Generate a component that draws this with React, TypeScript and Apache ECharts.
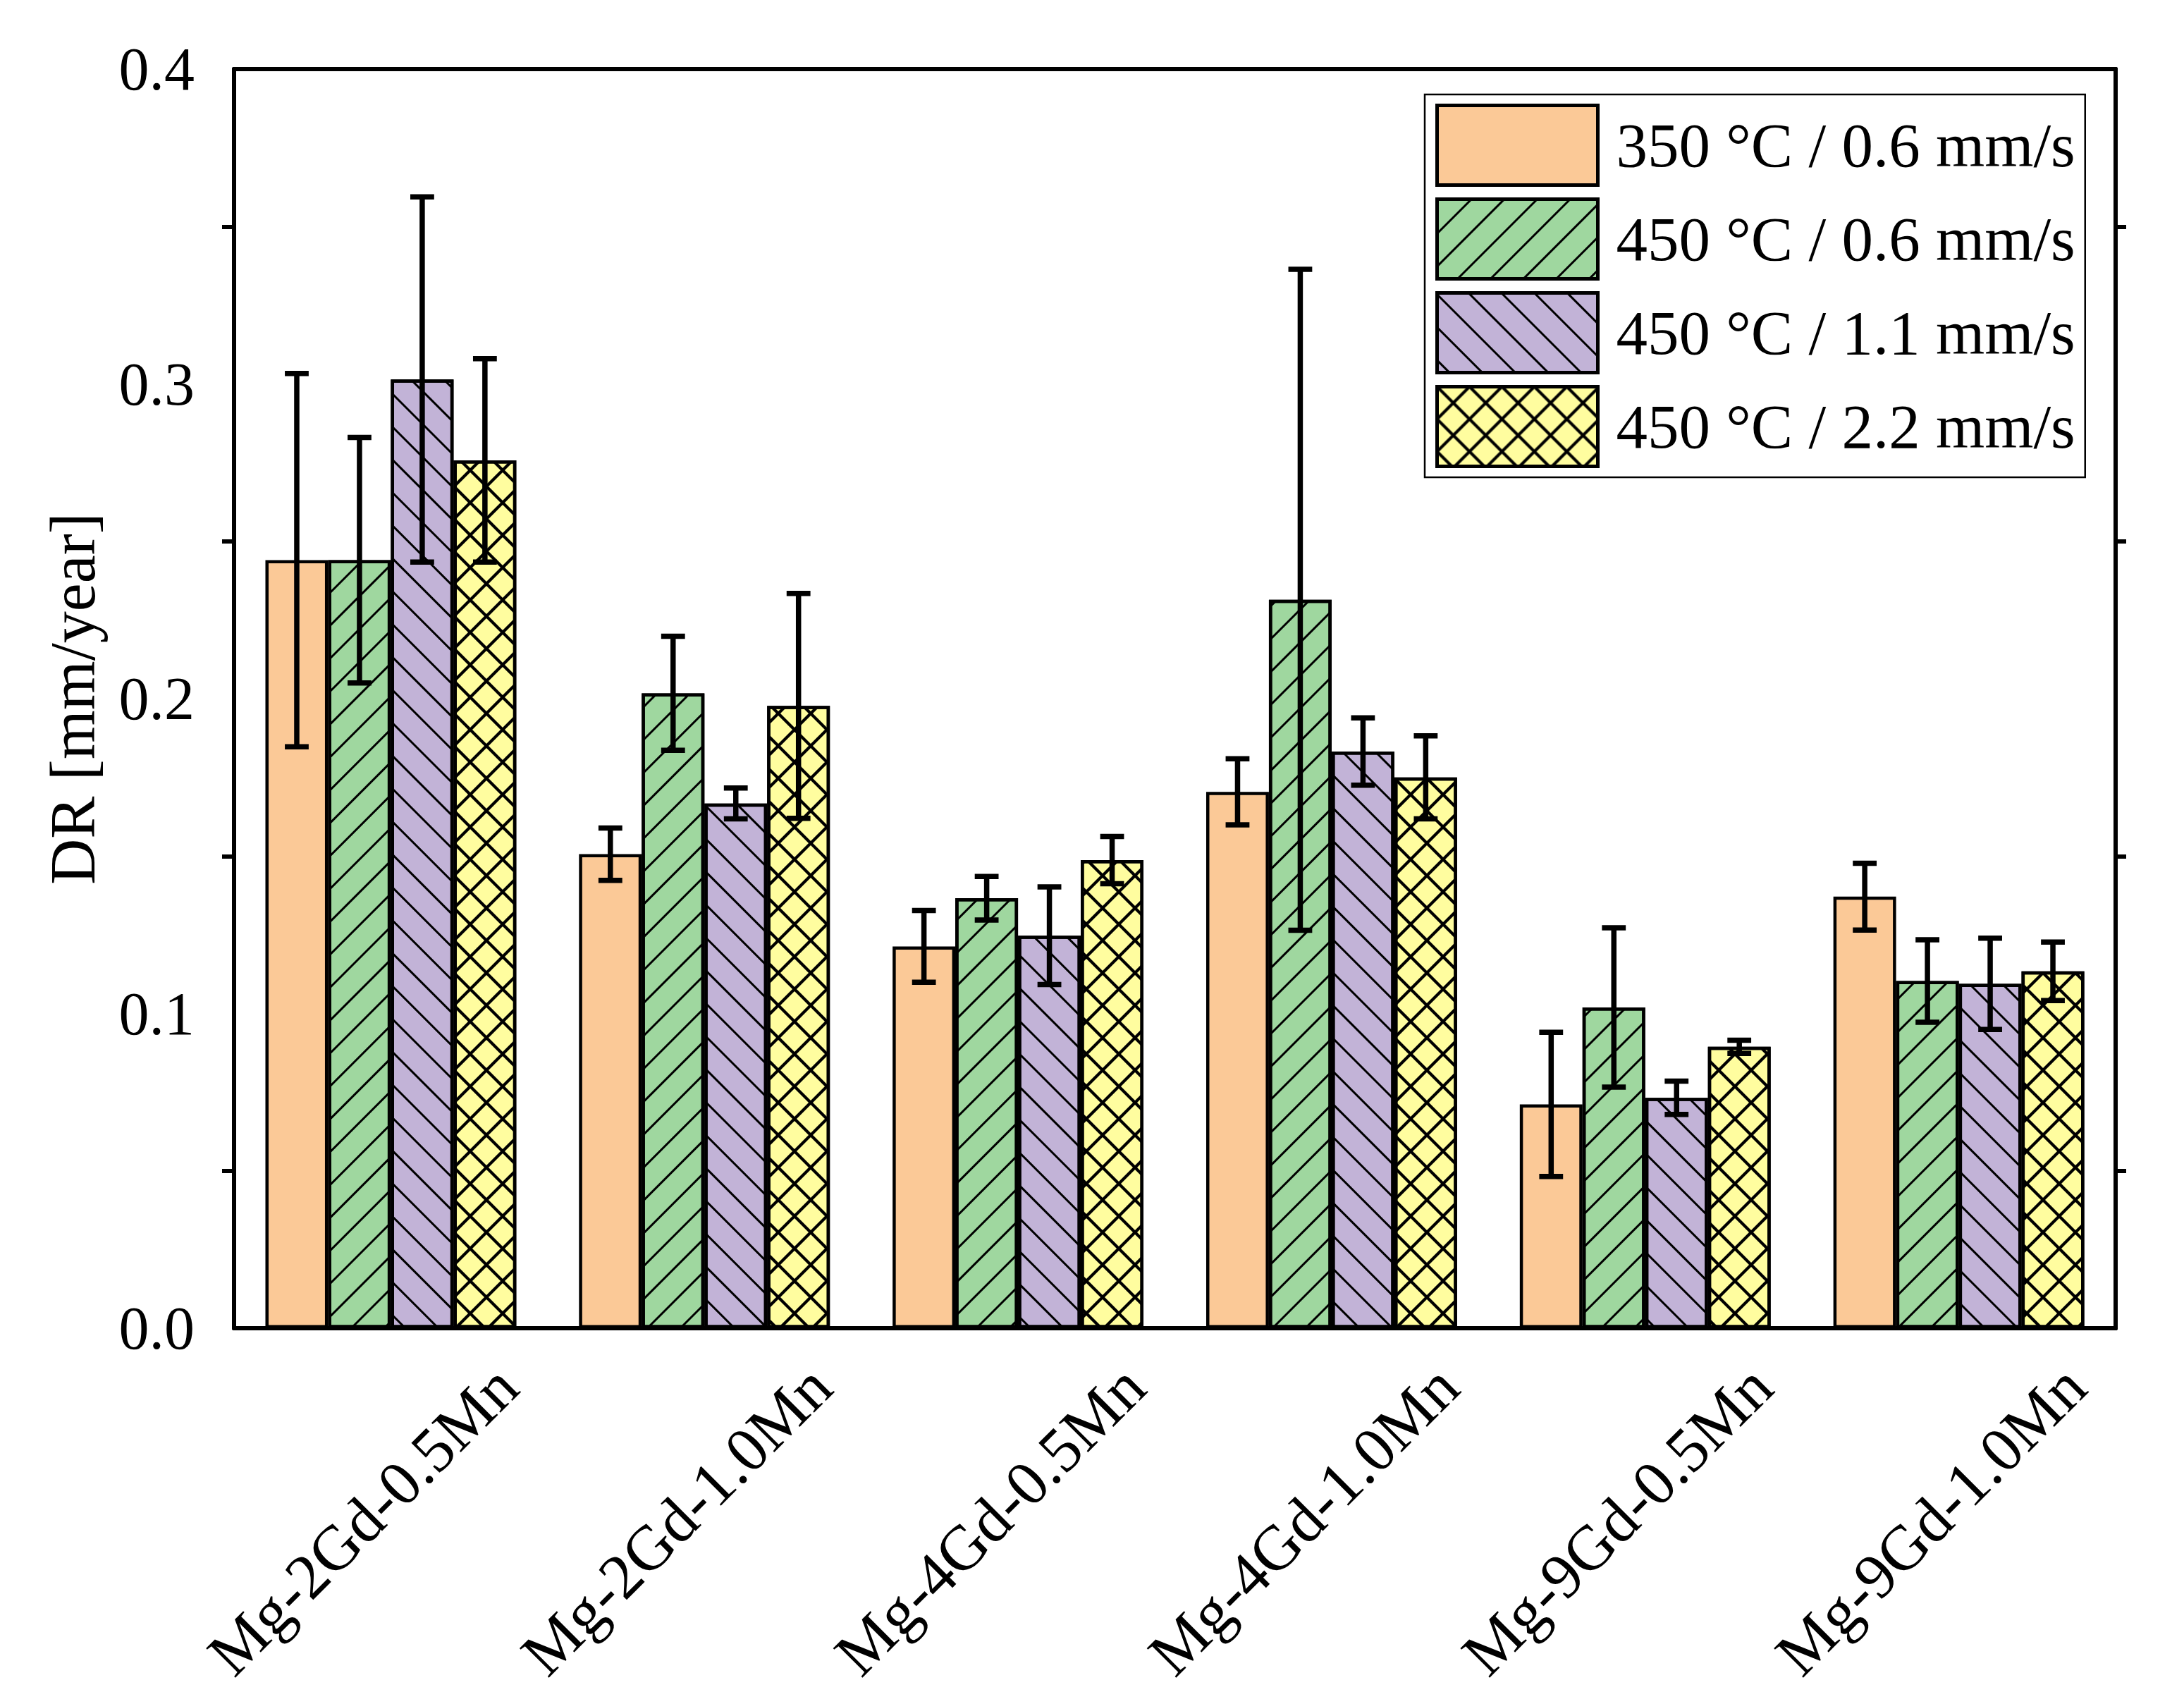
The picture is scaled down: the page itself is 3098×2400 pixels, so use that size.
import { useEffect, useRef } from "react";
import * as echarts from "echarts";

const categories = [
  "Mg-2Gd-0.5Mn",
  "Mg-2Gd-1.0Mn",
  "Mg-4Gd-0.5Mn",
  "Mg-4Gd-1.0Mn",
  "Mg-9Gd-0.5Mn",
  "Mg-9Gd-1.0Mn",
];

const seriesNames = [
  "350 °C / 0.6 mm/s",
  "450 °C / 0.6 mm/s",
  "450 °C / 1.1 mm/s",
  "450 °C / 2.2 mm/s",
];

// mean DR [mm/year] and +/- error per alloy
const dr350_06 = [0.244, 0.1506, 0.1213, 0.1704, 0.0711, 0.1371];
const err350_06 = [0.0593, 0.0083, 0.0114, 0.0105, 0.0229, 0.0106];
const dr450_06 = [0.244, 0.2017, 0.1366, 0.2314, 0.1019, 0.1103];
const err450_06 = [0.039, 0.0181, 0.0069, 0.105, 0.0253, 0.0131];
const dr450_11 = [0.3014, 0.1667, 0.1247, 0.1832, 0.0732, 0.1094];
const err450_11 = [0.058, 0.0049, 0.0155, 0.0107, 0.0053, 0.0145];
const dr450_22 = [0.2757, 0.1977, 0.1487, 0.175, 0.0894, 0.1134];
const err450_22 = [0.0323, 0.0357, 0.0075, 0.0132, 0.0021, 0.0093];

const yTickLabels = ["0.0", "0.1", "0.2", "0.3", "0.4"];

const values = [dr350_06, dr450_06, dr450_11, dr450_22];
const errors = [err350_06, err450_06, err450_11, err450_22];
const colors = ["#FBC997", "#9FD79F", "#C2B3D7", "#FFFD9F"];

const FONT = '"Palatino Linotype", "Book Antiqua", Palatino, "Liberation Serif", serif';

// X in one tile: neighbouring tiles join up into a cross-hatch
const crossPath =
  "path://M0,0 L3,0 L46,43 L46,46 L43,46 L0,3 Z M46,0 L46,3 L3,46 L0,46 L0,43 L43,0 Z";

const decals: any[] = [
  null,
  { symbol: "rect", color: "#000", dashArrayX: [1, 0], dashArrayY: [2.5, 30], rotation: -Math.PI / 4 },
  { symbol: "rect", color: "#000", dashArrayX: [1, 0], dashArrayY: [2.5, 30], rotation: Math.PI / 4 },
  { symbol: crossPath, color: "#000", dashArrayX: [46, 0], dashArrayY: [46, 0] },
];

export default function App() {
  const chartRef = useRef<HTMLDivElement | null>(null);

  useEffect(() => {
    document.body.style.margin = "0";
    if (!chartRef.current) return;
    const chart = echarts.init(chartRef.current, undefined, { renderer: "svg" });

    const axisLine = { show: true, onZero: false, lineStyle: { color: "#000", width: 6 } };
    const tickStyle = { color: "#000", width: 6 };
    const hidden = { show: false };

    const barSeries = seriesNames.map((name, i) => ({
      name,
      type: "bar" as const,
      data: values[i],
      barGap: "0%",
      barCategoryGap: "20%",
      z: 2,
      itemStyle: {
        color: colors[i],
        borderColor: "#000",
        borderWidth: 4.5,
        ...(decals[i] ? { decal: decals[i] } : {}),
      },
    }));

    const errSeries = seriesNames.map((name, i) => ({
      name: name + " error",
      type: "custom" as const,
      z: 10,
      data: values[i].map((v, k) => [k, v, errors[i][k]]),
      encode: { x: 0, y: 1 },
      renderItem: (_params: any, api: any) => {
        const k = api.value(0);
        const v = api.value(1);
        const e = api.value(2);
        const band = api.size([1, 0])[0];
        const barW = (band * 0.8) / 4;
        const x = api.coord([k, v])[0] + barW * (i - 1.5);
        const yTop = api.coord([k, v + e])[1];
        const yBot = api.coord([k, v - e])[1];
        const cap = barW * 0.19;
        const style = { stroke: "#000", lineWidth: 7.5 };
        return {
          type: "group",
          children: [
            { type: "line", shape: { x1: x, y1: yTop, x2: x, y2: yBot }, style },
            { type: "line", shape: { x1: x - cap, y1: yTop, x2: x + cap, y2: yTop }, style },
            { type: "line", shape: { x1: x - cap, y1: yBot, x2: x + cap, y2: yBot }, style },
          ],
        };
      },
    }));

    const option: any = {
      animation: false,
      backgroundColor: "#fff",
      grid: { left: 332, right: 97, top: 98, bottom: 516, containLabel: false },
      legend: {
        data: seriesNames,
        orient: "vertical",
        left: 2021,
        top: 134,
        itemWidth: 228,
        itemHeight: 113,
        itemGap: 15,
        padding: [13, 14, 13, 15],
        borderColor: "#000",
        borderWidth: 2.5,
        backgroundColor: "#fff",
        selectedMode: false,
        icon: "rect",
        itemStyle: { borderColor: "#000", borderWidth: 5 },
        textStyle: { fontSize: 89, fontFamily: FONT, color: "#000", padding: [0, 0, 0, 21] },
      },
      xAxis: [
        {
          type: "category",
          data: categories,
          position: "bottom",
          axisLine,
          axisTick: { alignWithLabel: true, interval: 0, length: 30, lineStyle: tickStyle },
          axisLabel: {
            interval: 0,
            rotate: 45,
            align: "center",
            verticalAlign: "middle",
            margin: 232,
            padding: [0, 113, 0, 0],
            fontSize: 90,
            fontFamily: FONT,
            color: "#000",
          },
        },
        {
          type: "category",
          data: categories,
          position: "bottom",
          axisLine,
          axisTick: { alignWithLabel: false, interval: 0, length: 15, lineStyle: tickStyle },
          axisLabel: hidden,
        },
        {
          type: "category",
          data: categories,
          position: "top",
          axisLine,
          axisTick: { alignWithLabel: true, interval: 0, length: 31, lineStyle: tickStyle },
          axisLabel: hidden,
        },
        {
          type: "category",
          data: categories,
          position: "top",
          axisLine,
          axisTick: { alignWithLabel: false, interval: 0, length: 15, lineStyle: tickStyle },
          axisLabel: hidden,
        },
      ],
      yAxis: [
        {
          type: "value",
          position: "left",
          min: 0,
          max: 0.4,
          interval: 0.1,
          name: "DR [mm/year]",
          nameLocation: "middle",
          nameRotate: 90,
          nameGap: 184,
          nameTextStyle: { fontSize: 90, fontFamily: FONT, color: "#000" },
          axisLine,
          axisTick: { length: 33, lineStyle: tickStyle },
          minorTick: { show: true, splitNumber: 2, length: 17, lineStyle: tickStyle },
          splitLine: hidden,
          minorSplitLine: hidden,
          axisLabel: {
            margin: 56,
            fontSize: 86,
            fontFamily: FONT,
            color: "#000",
            formatter: (v: number) => yTickLabels[Math.round(v / 0.1)] ?? "",
          },
        },
        {
          type: "value",
          position: "right",
          min: 0,
          max: 0.4,
          interval: 0.1,
          axisLine,
          axisTick: { length: 34, lineStyle: tickStyle },
          minorTick: { show: true, splitNumber: 2, length: 15, lineStyle: tickStyle },
          splitLine: hidden,
          minorSplitLine: hidden,
          axisLabel: hidden,
        },
      ],
      series: [...barSeries, ...errSeries],
    };

    chart.setOption(option);

    return () => chart.dispose();
  }, []);

  return <div ref={chartRef} style={{ width: 3098, height: 2400 }} />;
}
